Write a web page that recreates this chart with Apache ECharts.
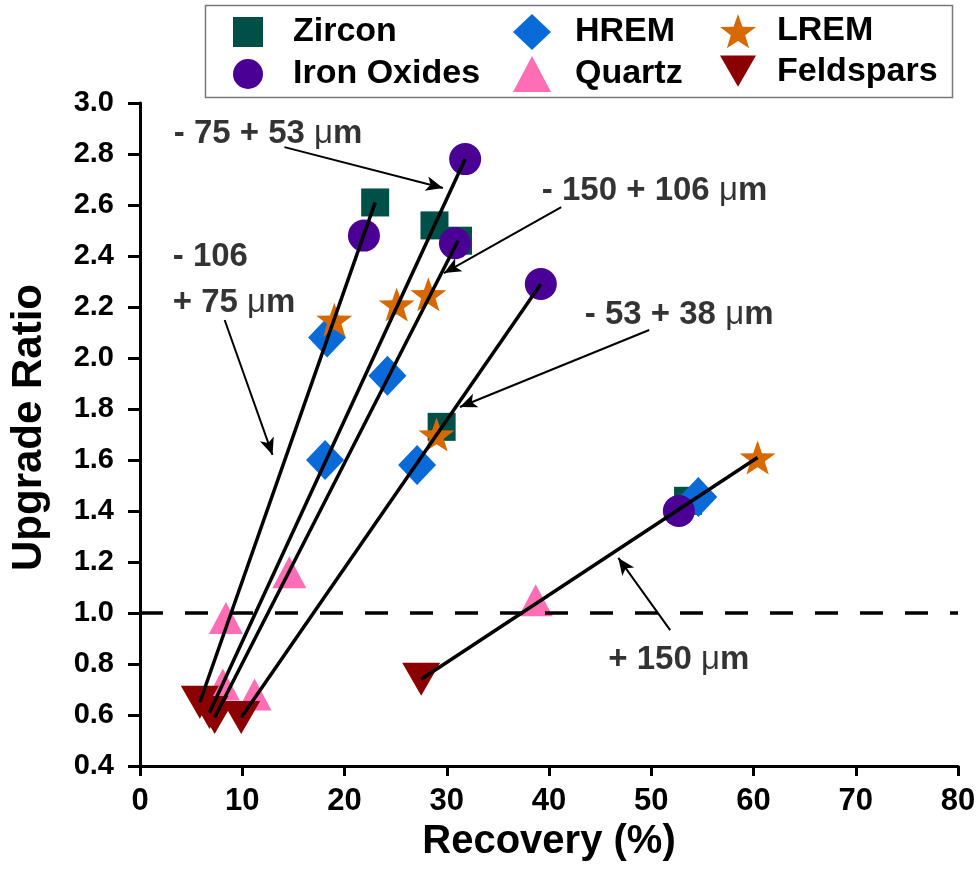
<!DOCTYPE html>
<html>
<head>
<meta charset="utf-8">
<script src="https://cdn.jsdelivr.net/npm/echarts@6/dist/echarts.min.js"></script>
<style>
  html, body { margin: 0; padding: 0; background: #fff; }
  #chart { width: 980px; height: 887px; }
</style>
</head>
<body>
<div id="chart"></div>
<script>
// Size fractions, in the same order as every value array below
const fractions = ['+150 µm', '-150 +106 µm', '-106 +75 µm', '-75 +53 µm', '-53 +38 µm'];

// Recovery (%) and upgrade ratio of each mineral per size fraction
const zirconRecovery   = [53.6, 31.1, 23.0, 28.8, 29.5];
const zirconUpgrade    = [1.44, 2.46, 2.61, 2.52, 1.73];
const ironRecovery     = [52.7, 30.8, 21.9, 31.8, 39.2];
const ironUpgrade      = [1.40, 2.45, 2.48, 2.78, 2.29];
const hremRecovery     = [54.6, 24.2, 18.3, 18.1, 27.1];
const hremUpgrade      = [1.455, 1.93, 2.08, 1.60, 1.58];
const lremRecovery     = [60.4, 28.2, 19.0, 25.1, 29.0];
const lremUpgrade      = [1.61, 2.25, 2.15, 2.21, 1.70];
const quartzRecovery   = [38.7, 14.6, 8.4, 8.1, 11.2];
const quartzUpgrade    = [1.05, 1.16, 0.98, 0.72, 0.68];
const feldsparRecovery = [27.5, 7.3, 5.85, 6.8, 9.9];
const feldsparUpgrade  = [0.74, 0.59, 0.65, 0.61, 0.59];

// Axis ranges and ticks
const xTicks = [0, 10, 20, 30, 40, 50, 60, 70, 80];
const yTicks = [0.4, 0.6, 0.8, 1.0, 1.2, 1.4, 1.6, 1.8, 2.0, 2.2, 2.4, 2.6, 2.8, 3.0];
const breakEven = 1.0;

// Fraction labels with the arrows pointing at their trend lines
const labelTexts = ['- 75 + 53 μm', '- 106', '+ 75 μm', '- 150 + 106 μm', '- 53 + 38 μm', '+ 150 μm'];
const labelAnchors = [[3.3, 2.88], [3.2, 2.396], [3.2, 2.216], [39.3, 2.655], [43.5, 2.17], [45.8, 0.816]];
const arrowFrom = [[14.13, 2.827], [8.28, 2.149], [41.2, 2.592], [49.8, 2.11], [51.85, 0.933]];
const arrowTo   = [[29.63, 2.667], [12.96, 1.62], [29.73, 2.333], [31.29, 1.808], [46.78, 1.216]];

const FONT = '"Liberation Sans", Arial, Helvetica, sans-serif';
const STAR = 'path://M0,-10 L2.35,-3.24 L9.51,-3.09 L3.8,1.24 L5.88,8.09 L0,4.2 L-5.88,8.09 L-3.8,1.24 L-9.51,-3.09 L-2.35,-3.24 Z';
const DOWN_TRIANGLE = 'path://M0,0 L38,0 L19,33 Z';

const minerals = [
  { name: 'Zircon',      rec: zirconRecovery,   up: zirconUpgrade,   color: '#00504a', symbol: 'rect',        size: 28 },
  { name: 'HREM',        rec: hremRecovery,     up: hremUpgrade,     color: '#0a6ad8', symbol: 'diamond',     size: [38, 40] },
  { name: 'Iron Oxides', rec: ironRecovery,     up: ironUpgrade,     color: '#4a0094', symbol: 'circle',      size: 32 },
  { name: 'LREM',        rec: lremRecovery,     up: lremUpgrade,     color: '#d66a00', symbol: STAR,          size: [36, 34] },
  { name: 'Quartz',      rec: quartzRecovery,   up: quartzUpgrade,   color: '#ff6eb4', symbol: 'triangle',    size: [34, 32] },
  { name: 'Feldspars',   rec: feldsparRecovery, up: feldsparUpgrade, color: '#8b0000', symbol: DOWN_TRIANGLE, size: [38, 33] }
];

const series = minerals.map(m => ({
  name: m.name,
  type: 'scatter',
  symbol: m.symbol,
  symbolSize: m.size,
  symbolKeepAspect: false,
  itemStyle: { color: m.color, opacity: 1 },
  data: m.rec.map((r, i) => [r, m.up[i]]),
  z: 3,
  emphasis: { disabled: true }
}));

// Trend line of each fraction: from its lowest-recovery point to its highest-recovery point
fractions.forEach((f, i) => {
  const pts = minerals.map(m => [m.rec[i], m.up[i]]);
  pts.sort((a, b) => a[0] - b[0]);
  series.push({
    name: 'trend ' + f,
    type: 'line',
    data: [pts[0], pts[pts.length - 1]],
    symbol: 'none',
    lineStyle: { color: '#000', width: 3.5 },
    z: 5,
    silent: true,
    emphasis: { disabled: true }
  });
});

// Annotation texts, arrows and the break-even line
series.push({
  name: 'notes',
  type: 'scatter',
  symbolSize: 0,
  silent: true,
  z: 6,
  data: labelTexts.map((t, i) => ({ value: labelAnchors[i], name: t })),
  label: {
    show: true,
    position: 'right',
    distance: 0,
    formatter: p => {
      const parts = p.name.split('μ');
      return parts.length > 1 ? parts[0] + '{mu|μ}' + parts[1] : p.name;
    },
    fontFamily: FONT,
    fontSize: 33,
    fontWeight: 'bold',
    color: '#000',
    rich: {
      mu: { fontFamily: FONT, fontSize: 33, fontWeight: 'normal', color: '#000' }
    }
  },
  markLine: {
    silent: true,
    animation: false,
    symbol: ['none', 'none'],
    label: { show: false },
    emphasis: { disabled: true },
    data: [
      { yAxis: breakEven, lineStyle: { color: '#000', width: 3.5, type: [23, 22] } }
    ].concat(arrowFrom.map((a, i) => [
      { coord: a, symbol: 'none', lineStyle: { color: '#000', width: 2, type: 'solid' } },
      { coord: arrowTo[i], symbol: 'arrow', symbolSize: [11, 17] }
    ]))
  }
});

const legendText = pad => ({
  formatter: n => '{n|' + n + '}',
  textStyle: {
    rich: { n: { fontFamily: FONT, fontSize: 34, fontWeight: 'bold', color: '#000', padding: [0, 0, 0, pad] } }
  }
});

const option = {
  animation: false,
  backgroundColor: '#fff',
  grid: { left: 137, right: 22, top: 103, bottom: 121, containLabel: false },
  xAxis: {
    type: 'value',
    min: xTicks[0],
    max: xTicks[xTicks.length - 1],
    interval: xTicks[1] - xTicks[0],
    name: 'Recovery (%)',
    nameLocation: 'middle',
    nameGap: 48,
    nameTextStyle: { fontFamily: FONT, fontSize: 40, fontWeight: 'bold', color: '#000' },
    axisLine: { show: true, onZero: false, lineStyle: { color: '#000', width: 3 } },
    axisTick: { show: true, length: 10, lineStyle: { color: '#000', width: 3 } },
    axisLabel: { fontFamily: FONT, fontSize: 31, fontWeight: 'bold', color: '#000', margin: 20 },
    splitLine: { show: false }
  },
  yAxis: {
    type: 'value',
    min: yTicks[0],
    max: yTicks[yTicks.length - 1],
    interval: 0.2,
    name: 'Upgrade Ratio',
    nameLocation: 'middle',
    nameGap: 90,
    nameRotate: 90,
    nameTextStyle: { fontFamily: FONT, fontSize: 42, fontWeight: 'bold', color: '#000', padding: [0, 0, 0, 14] },
    axisLine: { show: true, onZero: false, lineStyle: { color: '#000', width: 3 } },
    axisTick: { show: true, length: 12, lineStyle: { color: '#000', width: 3 } },
    axisLabel: { fontFamily: FONT, fontSize: 29, fontWeight: 'bold', color: '#000', margin: 26,
                 formatter: v => v.toFixed(1) },
    splitLine: { show: false }
  },
  legend: [
    Object.assign({ data: ['Zircon', 'Iron Oxides'], orient: 'vertical', left: 228, top: 10,
                    itemWidth: 30, itemHeight: 30, itemGap: 8, selectedMode: false }, legendText(25)),
    Object.assign({ data: ['HREM', 'Quartz'], orient: 'vertical', left: 508, top: 9,
                    itemWidth: 38, itemHeight: 36, itemGap: 6, selectedMode: false }, legendText(19)),
    Object.assign({ data: ['LREM', 'Feldspars'], orient: 'vertical', left: 715, top: 9,
                    itemWidth: 36, itemHeight: 36, itemGap: 6, selectedMode: false }, legendText(16))
  ],
  graphic: [
    { type: 'rect', left: 203, top: 3, shape: { width: 747, height: 92 },
      style: { fill: 'none', stroke: '#777', lineWidth: 1.5 }, silent: true, z: 0 }
  ],
  series: series
};

const chart = echarts.init(document.getElementById('chart'), null, { renderer: 'canvas' });
chart.setOption(option);
</script>
</body>
</html>
